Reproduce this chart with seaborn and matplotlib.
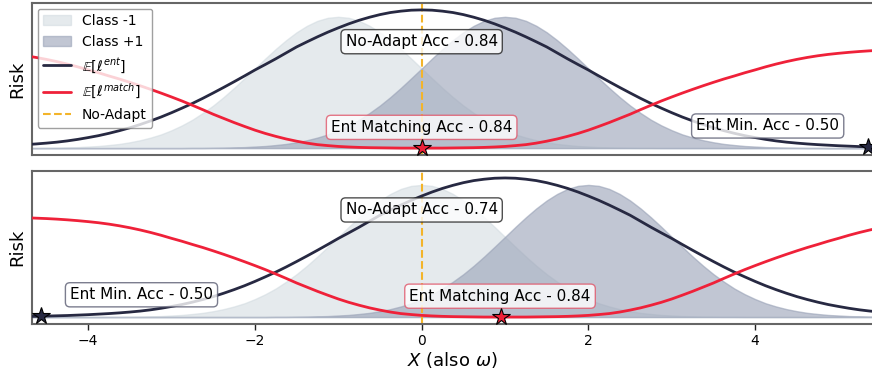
import numpy as np
import matplotlib
matplotlib.use("Agg")
import matplotlib.pyplot as plt
import seaborn as sns
from matplotlib.patches import Patch
from matplotlib.lines import Line2D

# ---------------- data ----------------
x_grid = np.linspace(-4.75, 5.5, 83)

# top panel
top_class_neg = [0.001, 0.001, 0.002, 0.003, 0.005, 0.007, 0.011, 0.015, 0.022, 0.030,
                 0.042, 0.057, 0.076, 0.099, 0.129, 0.164, 0.205, 0.254, 0.308, 0.369,
                 0.435, 0.505, 0.576, 0.648, 0.717, 0.781, 0.838, 0.885, 0.921, 0.943,
                 0.950,
                 0.943, 0.921, 0.885, 0.838, 0.781, 0.717, 0.648, 0.576, 0.505, 0.435,
                 0.369, 0.308, 0.254, 0.205, 0.164, 0.129, 0.099, 0.076, 0.057, 0.042,
                 0.030, 0.022, 0.015, 0.011, 0.007, 0.005, 0.003, 0.002, 0.001, 0.001,
                 0, 0, 0, 0, 0, 0, 0, 0, 0, 0, 0, 0, 0, 0, 0, 0, 0, 0, 0, 0, 0, 0]
top_class_pos = [0, 0, 0, 0, 0, 0, 0, 0, 0, 0, 0, 0, 0, 0, 0, 0,
                 0.001, 0.001, 0.002, 0.003, 0.005, 0.007, 0.011, 0.015, 0.022, 0.030,
                 0.042, 0.057, 0.076, 0.099, 0.129, 0.164, 0.205, 0.254, 0.308, 0.369,
                 0.435, 0.505, 0.576, 0.648, 0.717, 0.781, 0.838, 0.885, 0.921, 0.943,
                 0.950,
                 0.943, 0.921, 0.885, 0.838, 0.781, 0.717, 0.648, 0.576, 0.505, 0.435,
                 0.369, 0.308, 0.254, 0.205, 0.164, 0.129, 0.099, 0.076, 0.057, 0.042,
                 0.030, 0.022, 0.015, 0.011, 0.007, 0.005, 0.003, 0.002, 0.001, 0.001,
                 0, 0, 0, 0, 0, 0]
top_ent = [0.025, 0.030, 0.036, 0.043, 0.052, 0.063, 0.076, 0.090, 0.107, 0.126,
           0.147, 0.171, 0.197, 0.225, 0.256, 0.289, 0.323, 0.360, 0.399, 0.439,
           0.480, 0.522, 0.565, 0.605, 0.646, 0.689, 0.732, 0.769, 0.805, 0.839,
           0.870, 0.899, 0.925, 0.947, 0.966, 0.981, 0.991, 0.998, 1.000,
           0.998, 0.991, 0.981, 0.966, 0.947, 0.925, 0.899, 0.870, 0.839, 0.805,
           0.769, 0.732, 0.689, 0.646, 0.605, 0.565, 0.522, 0.480, 0.439, 0.399,
           0.360, 0.323, 0.289, 0.256, 0.225, 0.197, 0.171, 0.147, 0.126, 0.107,
           0.090, 0.076, 0.063, 0.052, 0.043, 0.036, 0.030, 0.025, 0.021, 0.017,
           0.014, 0.011, 0.009, 0.007]
top_match = [0.668, 0.656, 0.642, 0.626, 0.608, 0.588, 0.566, 0.545, 0.522, 0.500,
             0.476, 0.451, 0.425, 0.398, 0.370, 0.341, 0.310, 0.278, 0.245, 0.215,
             0.185, 0.157, 0.130, 0.106, 0.085, 0.066, 0.050, 0.036, 0.025, 0.018,
             0.012, 0.008, 0.005, 0.003, 0.002, 0.001, 0.000, 0.000, 0.000,
             0.000, 0.000, 0.001, 0.002, 0.003, 0.005, 0.008, 0.012, 0.018, 0.025,
             0.036, 0.050, 0.066, 0.085, 0.106, 0.130, 0.157, 0.185, 0.215, 0.245,
             0.278, 0.310, 0.341, 0.370, 0.398, 0.425, 0.451, 0.476, 0.500, 0.522,
             0.545, 0.566, 0.588, 0.608, 0.626, 0.642, 0.656, 0.668, 0.678, 0.686,
             0.693, 0.699, 0.704, 0.708]

# bottom panel
bot_class_neg = [0, 0, 0, 0, 0, 0, 0, 0,
                 0.001, 0.001, 0.002, 0.003, 0.005, 0.007, 0.011, 0.015, 0.022, 0.030,
                 0.042, 0.057, 0.076, 0.099, 0.129, 0.164, 0.205, 0.254, 0.308, 0.369,
                 0.435, 0.505, 0.576, 0.648, 0.717, 0.781, 0.838, 0.885, 0.921, 0.943,
                 0.950,
                 0.943, 0.921, 0.885, 0.838, 0.781, 0.717, 0.648, 0.576, 0.505, 0.435,
                 0.369, 0.308, 0.254, 0.205, 0.164, 0.129, 0.099, 0.076, 0.057, 0.042,
                 0.030, 0.022, 0.015, 0.011, 0.007, 0.005, 0.003, 0.002, 0.001, 0.001,
                 0, 0, 0, 0, 0, 0, 0, 0, 0, 0, 0, 0, 0, 0]
bot_class_pos = [0, 0, 0, 0, 0, 0, 0, 0, 0, 0, 0, 0, 0, 0, 0, 0, 0, 0, 0, 0, 0, 0, 0, 0,
                 0.001, 0.001, 0.002, 0.003, 0.005, 0.007, 0.011, 0.015, 0.022, 0.030,
                 0.042, 0.057, 0.076, 0.099, 0.129, 0.164, 0.205, 0.254, 0.308, 0.369,
                 0.435, 0.505, 0.576, 0.648, 0.717, 0.781, 0.838, 0.885, 0.921, 0.943,
                 0.950,
                 0.943, 0.921, 0.885, 0.838, 0.781, 0.717, 0.648, 0.576, 0.505, 0.435,
                 0.369, 0.308, 0.254, 0.205, 0.164, 0.129, 0.099, 0.076, 0.057, 0.042,
                 0.030, 0.022, 0.015, 0.011, 0.007, 0.005, 0.003, 0.002]
bot_ent = [0.004, 0.005, 0.007, 0.009, 0.011, 0.014, 0.017, 0.021,
           0.025, 0.030, 0.036, 0.043, 0.052, 0.063, 0.076, 0.090, 0.107, 0.126,
           0.147, 0.171, 0.197, 0.225, 0.256, 0.289, 0.323, 0.360, 0.399, 0.439,
           0.480, 0.522, 0.565, 0.605, 0.646, 0.689, 0.732, 0.769, 0.805, 0.839,
           0.870, 0.899, 0.925, 0.947, 0.966, 0.981, 0.991, 0.998, 1.000,
           0.998, 0.991, 0.981, 0.966, 0.947, 0.925, 0.899, 0.870, 0.839, 0.805,
           0.769, 0.732, 0.689, 0.646, 0.605, 0.565, 0.522, 0.480, 0.439, 0.399,
           0.360, 0.323, 0.289, 0.256, 0.225, 0.197, 0.171, 0.147, 0.126, 0.107,
           0.090, 0.076, 0.063, 0.052, 0.043, 0.036]
bot_match = [0.714, 0.711, 0.708, 0.704, 0.699, 0.693, 0.686, 0.678,
             0.668, 0.656, 0.642, 0.626, 0.608, 0.588, 0.566, 0.545, 0.522, 0.500,
             0.476, 0.451, 0.425, 0.398, 0.370, 0.341, 0.310, 0.278, 0.245, 0.215,
             0.185, 0.157, 0.130, 0.106, 0.085, 0.066, 0.050, 0.036, 0.025, 0.018,
             0.012, 0.008, 0.005, 0.003, 0.002, 0.001, 0.000, 0.000, 0.000,
             0.000, 0.000, 0.001, 0.002, 0.003, 0.005, 0.008, 0.012, 0.018, 0.025,
             0.036, 0.050, 0.066, 0.085, 0.106, 0.130, 0.157, 0.185, 0.215, 0.245,
             0.278, 0.310, 0.341, 0.370, 0.398, 0.425, 0.451, 0.476, 0.500, 0.522,
             0.545, 0.566, 0.588, 0.608, 0.626, 0.642]

for _name, _arr in [('top_class_neg', top_class_neg), ('top_class_pos', top_class_pos),
                    ('top_ent', top_ent), ('top_match', top_match),
                    ('bot_class_neg', bot_class_neg), ('bot_class_pos', bot_class_pos),
                    ('bot_ent', bot_ent), ('bot_match', bot_match)]:
    assert len(_arr) == len(x_grid), (_name, len(_arr))

# minima markers (x, y)
top_ent_min = (5.35, 0.008)
top_match_min = (0.0, 0.0)
bot_ent_min = (-4.56, 0.006)
bot_match_min = (0.95, 0.0)

top_noadapt_acc = 0.84
top_match_acc = 0.84
top_entmin_acc = 0.50
bot_noadapt_acc = 0.74
bot_match_acc = 0.84
bot_entmin_acc = 0.50

# ---------------- styling ----------------
sns.set_theme(style="ticks")
plt.rcParams['font.family'] = ['DejaVu Sans']
plt.rcParams['mathtext.fontset'] = 'dejavusans'
plt.rcParams['text.color'] = 'black'
plt.rcParams['axes.labelcolor'] = 'black'
plt.rcParams['xtick.color'] = 'black'
plt.rcParams['ytick.color'] = 'black'

C_NEG = '#cdd7dd'
C_POS = '#98a1b6'
C_ENT = '#272942'
C_MATCH = '#ef2139'
C_NOADAPT = '#f3b42a'
SPINE = '#666666'

fig = plt.figure(figsize=(8.72, 3.73), dpi=100)
ax1 = fig.add_axes([32 / 872, 1 - 155 / 373, 841 / 872, 152 / 373])
ax2 = fig.add_axes([32 / 872, 1 - 324 / 373, 841 / 872, 153 / 373])


def draw(ax, cneg, cpos, ent, match, ent_min, match_min,
         noadapt_acc, match_acc, entmin_acc, entmin_text_x, match_text_x):
    ax.fill_between(x_grid, 0, cneg, color=C_NEG, alpha=0.5, lw=1,
                    edgecolor=C_NEG, zorder=1)
    ax.fill_between(x_grid, 0, cpos, color=C_POS, alpha=0.6, lw=1,
                    edgecolor=C_POS, zorder=1.1)
    sns.lineplot(x=x_grid, y=ent, ax=ax, color=C_ENT, lw=2, zorder=3)
    sns.lineplot(x=x_grid, y=match, ax=ax, color=C_MATCH, lw=2, zorder=3)
    ax.axvline(0, color=C_NOADAPT, ls='--', lw=1.5, zorder=2.5)
    ax.plot([ent_min[0]], [ent_min[1]], marker='*', ms=13, mfc=C_ENT,
            mec='black', mew=0.8, zorder=6, clip_on=False, ls='none')
    ax.plot([match_min[0]], [match_min[1]], marker='*', ms=13, mfc=C_MATCH,
            mec='black', mew=0.8, zorder=6, clip_on=False, ls='none')
    ax.text(0, 0.77, f'No-Adapt Acc - {noadapt_acc:.2f}', ha='center', va='center',
            fontsize=11, zorder=5,
            bbox=dict(boxstyle='round,pad=0.3', fc='white', ec='#222222', alpha=0.8, lw=1))
    ax.text(match_text_x, 0.15, f'Ent Matching Acc - {match_acc:.2f}', ha='center',
            va='center', fontsize=11, zorder=5,
            bbox=dict(boxstyle='round,pad=0.3', fc='white', ec='#e0566a', alpha=0.8, lw=1))
    ax.text(entmin_text_x, 0.16, f'Ent Min. Acc - {entmin_acc:.2f}', ha='center',
            va='center', fontsize=11, zorder=5,
            bbox=dict(boxstyle='round,pad=0.3', fc='white', ec='#5a5c72', alpha=0.8, lw=1))
    ax.set_xlim(-4.673, 5.413)
    ax.set_ylim(-0.05, 1.05)
    ax.set_yticks([])
    ax.set_ylabel('Risk', fontsize=13, labelpad=4)
    for s in ax.spines.values():
        s.set_color(SPINE)
        s.set_linewidth(1.5)


draw(ax1, top_class_neg, top_class_pos, top_ent, top_match, top_ent_min, top_match_min,
     top_noadapt_acc, top_match_acc, top_entmin_acc, 4.15, 0.0)
draw(ax2, bot_class_neg, bot_class_pos, bot_ent, bot_match, bot_ent_min, bot_match_min,
     bot_noadapt_acc, bot_match_acc, bot_entmin_acc, -3.36, 0.94)

ax1.set_xticks([])
ax1.set_xlabel('')
ax2.set_xticks([-4, -2, 0, 2, 4])
ax2.tick_params(axis='x', labelsize=10, length=4, width=1, color='#222222', pad=3)
ax2.set_xlabel(r'$X$ (also $\omega$)', fontsize=13, labelpad=2)

handles = [
    Patch(facecolor=C_NEG, alpha=0.5, edgecolor=C_NEG, label='Class -1'),
    Patch(facecolor=C_POS, alpha=0.6, edgecolor=C_POS, label='Class +1'),
    Line2D([0], [0], color=C_ENT, lw=2, label=r'$\mathbb{E}[\ell^{ent}]$'),
    Line2D([0], [0], color=C_MATCH, lw=2, label=r'$\mathbb{E}[\ell^{match}]$'),
    Line2D([0], [0], color=C_NOADAPT, lw=1.5, ls='--', label='No-Adapt'),
]
leg = ax1.legend(handles=handles, loc='upper left', fontsize=10, frameon=True,
                 framealpha=0.8, edgecolor='#888888', borderaxespad=0.4)
leg.set_zorder(10)

fig.savefig('out.png', dpi=100)
